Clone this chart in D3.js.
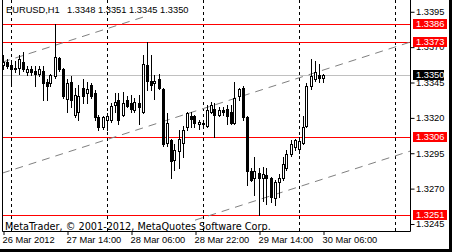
<!DOCTYPE html>
<meta charset="utf-8">
<style>
    body { margin: 0; background: #fff; }
    svg { display: block; }
    text { font-family: "Liberation Sans", Arial, sans-serif; font-size: 9.3px; fill: #000; }
</style>
<svg width="452" height="252"></svg>
<script src="https://d3js.org/d3.v7.min.js"></script>
<script>
    var symbol = "EURUSD,H1";
    var opens = [1.3357, 1.3359, 1.3357, 1.3355, 1.3355, 1.3359, 1.3352, 1.3354, 1.3353, 1.3351,
        1.3353, 1.3345, 1.3344, 1.3349, 1.3362, 1.3354, 1.3333, 1.3345, 1.3322, 1.3324,
        1.3341, 1.3337, 1.3343, 1.3337, 1.3320, 1.3313, 1.3318, 1.3318, 1.3329, 1.3332,
        1.3322, 1.3332, 1.3330, 1.3325, 1.3330, 1.3324, 1.3357, 1.3346, 1.3344, 1.3347,
        1.3340, 1.3302, 1.3304, 1.3290, 1.3296, 1.3302, 1.3313, 1.3321, 1.3321, 1.3315,
        1.3316, 1.3314, 1.3324, 1.3326, 1.3322, 1.3325, 1.3326, 1.3324, 1.3316, 1.3335,
        1.3341, 1.3320, 1.3282, 1.3277, 1.3281, 1.3277, 1.3279, 1.3277, 1.3263, 1.3274,
        1.3277, 1.3284, 1.3294, 1.3299, 1.3298, 1.3302, 1.3314, 1.3342, 1.3347, 1.3350,
        1.3348];
    var highs = [1.3364, 1.3361, 1.3359, 1.3360, 1.3364, 1.3366, 1.3356, 1.3356, 1.3356, 1.3356,
        1.3356, 1.3347, 1.3351, 1.3386, 1.3363, 1.3355, 1.3347, 1.3349, 1.3341, 1.3343,
        1.3347, 1.3345, 1.3344, 1.3339, 1.3322, 1.3321, 1.3323, 1.3330, 1.3337, 1.3337,
        1.3338, 1.3335, 1.3336, 1.3334, 1.3336, 1.3364, 1.3373, 1.3364, 1.3350, 1.3351,
        1.3341, 1.3323, 1.3305, 1.3301, 1.3311, 1.3314, 1.3324, 1.3324, 1.3322, 1.3318,
        1.3318, 1.3329, 1.3331, 1.3330, 1.3327, 1.3327, 1.3329, 1.3329, 1.3345, 1.3341,
        1.3342, 1.3321, 1.3284, 1.3292, 1.3284, 1.3285, 1.3284, 1.3278, 1.3276, 1.3280,
        1.3292, 1.3297, 1.3304, 1.3305, 1.3306, 1.3321, 1.3344, 1.3361, 1.3360, 1.3358,
        1.3351];
    var lows = [1.3354, 1.3355, 1.3344, 1.3352, 1.3351, 1.3353, 1.3350, 1.3350, 1.3342, 1.3349,
        1.3332, 1.3332, 1.3342, 1.3348, 1.3353, 1.3334, 1.3324, 1.3327, 1.3320, 1.3318,
        1.3330, 1.3330, 1.3334, 1.3318, 1.3311, 1.3312, 1.3311, 1.3317, 1.3324, 1.3315,
        1.3321, 1.3327, 1.3324, 1.3324, 1.3315, 1.3323, 1.3339, 1.3339, 1.3333, 1.3340,
        1.3300, 1.3300, 1.3277, 1.3283, 1.3284, 1.3292, 1.3311, 1.3313, 1.3313, 1.3312,
        1.3313, 1.3313, 1.3323, 1.3306, 1.3321, 1.3322, 1.3315, 1.3315, 1.3315, 1.3332,
        1.3318, 1.3272, 1.3275, 1.3265, 1.3251, 1.3261, 1.3259, 1.3260, 1.3258, 1.3264,
        1.3276, 1.3283, 1.3293, 1.3297, 1.3295, 1.3301, 1.3313, 1.3340, 1.3346, 1.3345,
        1.3345];
    var closes = [1.3359, 1.3356, 1.3354, 1.3354, 1.3361, 1.3354, 1.3354, 1.3352, 1.3351, 1.3354,
        1.3344, 1.3342, 1.3350, 1.3363, 1.3354, 1.3335, 1.3344, 1.3332, 1.3336, 1.3335,
        1.3335, 1.3340, 1.3335, 1.3320, 1.3313, 1.3320, 1.3321, 1.3328, 1.3331, 1.3318,
        1.3330, 1.3328, 1.3326, 1.3331, 1.3327, 1.3358, 1.3346, 1.3343, 1.3346, 1.3341,
        1.3301, 1.3316, 1.3289, 1.3297, 1.3305, 1.3311, 1.3323, 1.3319, 1.3316, 1.3317,
        1.3315, 1.3325, 1.3329, 1.3322, 1.3325, 1.3324, 1.3321, 1.3316, 1.3334, 1.3340,
        1.3320, 1.3282, 1.3276, 1.3282, 1.3277, 1.3280, 1.3277, 1.3264, 1.3274, 1.3277,
        1.3287, 1.3294, 1.3301, 1.3304, 1.3303, 1.3313, 1.3342, 1.3349, 1.3352, 1.3348,
        1.3350];

    // bar index -> label
    var timeTicks = [0, 16, 32, 48, 64, 80];
    var timeLabels = ["26 Mar 2012", "27 Mar 14:00", "28 Mar 06:00", "28 Mar 22:00", "29 Mar 14:00", "30 Mar 06:00"];
    var daySeparators = [2, 26, 50, 74, 98];
    var priceTicks = [1.3395, 1.3370, 1.3345, 1.3320, 1.3295, 1.3270, 1.3245];
    var levels = [1.3386, 1.3373, 1.3306, 1.3251];
    var bid = 1.3350;
    // [bar1, price1, bar2, price2]
    var channelLines = [
        [-0.25, 1.33593, 35, 1.33912],
        [-0.25, 1.32809, 101.75, 1.33735],
        [48, 1.32477, 101.75, 1.32965]
    ];
    var copyright = "MetaTrader, \u00a9 2001-2012, MetaQuotes Software Corp.";

    var svg = d3.select("svg"),
        chartLeft = 2,
        chartRight = 410,
        chartBottom = 231,
        fmt = d3.format(".4f");

    var x = d3.scaleLinear().domain([0, 80]).range([3, 323]);
    var y = d3.scaleLinear().domain([1.3251, 1.3386]).range([215.5, 24.5]);

    function sx(v) { return Math.floor(v) + 0.5; }
    function sy(v) { return Math.floor(y(v)) + 0.5; }

    svg.append("rect").attr("width", 452).attr("height", 252).attr("fill", "#fff");

    svg.append("clipPath").attr("id", "plot")
        .append("rect").attr("x", chartLeft).attr("y", 0)
        .attr("width", chartRight - chartLeft).attr("height", chartBottom);

    var plot = svg.append("g").attr("clip-path", "url(#plot)");

    // bid line
    plot.append("line")
        .attr("x1", chartLeft).attr("x2", chartRight)
        .attr("y1", sy(bid)).attr("y2", sy(bid))
        .attr("stroke", "#c0c0c0");

    // period separators
    plot.selectAll(".sep").data(daySeparators).enter().append("line")
        .attr("x1", function (d) { return sx(x(d)); })
        .attr("x2", function (d) { return sx(x(d)); })
        .attr("y1", 0).attr("y2", chartBottom)
        .attr("stroke", "#000")
        .attr("stroke-dasharray", "3,3");

    // horizontal levels
    plot.selectAll(".lvl").data(levels).enter().append("line")
        .attr("x1", chartLeft).attr("x2", chartRight)
        .attr("y1", sy).attr("y2", sy)
        .attr("stroke", "#ff0000");

    // channel
    plot.selectAll(".chan").data(channelLines).enter().append("line")
        .attr("x1", function (d) { return x(d[0]); })
        .attr("y1", function (d) { return y(d[1]); })
        .attr("x2", function (d) { return x(d[2]); })
        .attr("y2", function (d) { return y(d[3]); })
        .attr("stroke", "#808080")
        .attr("stroke-dasharray", "8,6");

    // candles
    var bars = d3.range(opens.length);
    var candle = plot.selectAll(".bar").data(bars).enter().append("g");
    candle.append("line")
        .attr("x1", function (i) { return sx(x(i)); })
        .attr("x2", function (i) { return sx(x(i)); })
        .attr("y1", function (i) { return sy(highs[i]) - 0.5; })
        .attr("y2", function (i) { return sy(lows[i]) + 0.5; })
        .attr("stroke", "#000");
    candle.append("rect")
        .attr("x", function (i) { return sx(x(i)) - 1; })
        .attr("y", function (i) { return sy(Math.max(opens[i], closes[i])); })
        .attr("width", 2)
        .attr("height", function (i) {
            return Math.max(0, sy(Math.min(opens[i], closes[i])) - sy(Math.max(opens[i], closes[i])));
        })
        .attr("fill", function (i) { return closes[i] >= opens[i] ? "#fff" : "#000"; })
        .attr("stroke", "#000");

    // frame
    svg.append("path")
        .attr("d", "M" + (chartLeft + 0.5) + ",0V" + (chartBottom + 0.5) + "H" + (chartRight + 0.5) + "V0")
        .attr("fill", "none").attr("stroke", "#000");

    // price axis
    var yAxis = svg.append("g")
        .attr("transform", "translate(" + chartRight + ",0)")
        .call(d3.axisRight(y).tickValues(priceTicks).tickSize(4).tickFormat(fmt));
    yAxis.select(".domain").remove();
    yAxis.selectAll("line").attr("stroke", "#000").attr("transform", "translate(0.5,0)");
    yAxis.selectAll("text").attr("x", 6).attr("dy", "0.3em")
        .style("font-family", "\"Liberation Sans\", Arial, sans-serif").style("font-size", "9.3px");

    // time axis
    var xAxis = svg.append("g")
        .attr("transform", "translate(0," + chartBottom + ")")
        .call(d3.axisBottom(x).tickValues(timeTicks).tickSize(4)
            .tickFormat(function (d, i) { return timeLabels[i]; }));
    xAxis.select(".domain").remove();
    xAxis.selectAll("line").attr("stroke", "#000").attr("transform", "translate(0.5,0)");
    xAxis.selectAll("text").attr("text-anchor", "start").attr("x", -1).attr("y", 12).attr("dy", 0)
        .style("font-family", "\"Liberation Sans\", Arial, sans-serif").style("font-size", "9.3px");

    // level labels
    var tags = levels.map(function (p) { return {p: p, fill: "#ff0000", w: 34}; })
        .concat([{p: bid, fill: "#000", w: 31}]);
    var tag = svg.selectAll(".tag").data(tags).enter().append("g")
        .attr("transform", function (d) { return "translate(413," + Math.floor(y(d.p)) + ")"; });
    tag.append("rect").attr("x", 0).attr("y", -5).attr("width", function (d) { return d.w; })
        .attr("height", 10).attr("fill", function (d) { return d.fill; });
    tag.append("text").attr("x", 3).attr("y", 3.3).style("fill", "#fff")
        .text(function (d) { return fmt(d.p); });

    // title
    var last = opens.length - 1;
    svg.append("text").attr("x", 6).attr("y", 13).text(symbol);
    svg.append("text").attr("x", 67).attr("y", 13).attr("xml:space", "preserve")
        .text([opens[last], highs[last], lows[last], closes[last]].map(fmt).join(" "));

    svg.append("text").attr("x", 5).attr("y", 229.5)
        .style("font-family", "\"DejaVu Sans\", sans-serif").style("font-size", "9.7px")
        .text(copyright);

    // window edge
    svg.append("rect").attr("x", 449).attr("y", 0).attr("width", 3).attr("height", 252).attr("fill", "#000");
    svg.append("rect").attr("x", 0).attr("y", 249).attr("width", 452).attr("height", 3).attr("fill", "#000");
</script>
